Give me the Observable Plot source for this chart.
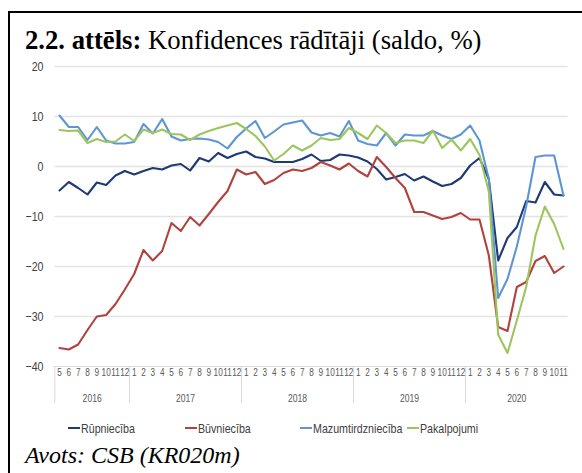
<!DOCTYPE html>
<html>
<head>
<meta charset="utf-8">
<script src="https://cdn.jsdelivr.net/npm/d3@7"></script>
<script src="https://cdn.jsdelivr.net/npm/@observablehq/plot@0.6"></script>
<style>
  html, body { margin: 0; padding: 0; background: #fff; }
  body { width: 582px; height: 473px; position: relative; overflow: hidden; }
  #frame { position: absolute; left: 8px; top: 11px; width: 600px; height: 500px; border-left: 2px solid #000; border-top: 2px solid #000; }
  #title { position: absolute; left: 25px; top: 27px; font-family: "Liberation Serif", "Times New Roman", serif; font-size: 26.7px; line-height: 26.7px; color: #000; white-space: nowrap; }
  #chart { position: absolute; left: 0; top: 0; }
  #legend { position: absolute; left: 0; top: 422px; width: 582px; height: 14px; font-family: "Liberation Sans", Arial, sans-serif; font-size: 13px; line-height: 13px; color: #404040; }
  .item { position: absolute; top: 0; white-space: nowrap; }
  .sw { position: absolute; left: 0; top: 5px; width: 12px; height: 2px; }
  .lbl { position: absolute; left: 13px; top: 0; display: inline-block; transform: scaleX(0.82); transform-origin: 0 0; }
  #caption { position: absolute; left: 25px; top: 443px; font-family: "Liberation Serif", "Times New Roman", serif; font-style: italic; font-size: 24px; line-height: 24px; color: #000; white-space: nowrap; }
</style>
</head>
<body>
<div id="frame"></div>
<div id="title"><b>2.2. attēls:</b> Konfidences rādītāji (saldo, %)</div>
<div id="chart"></div>
<div id="legend"></div>
<div id="caption">Avots: CSB (KR020m)</div>
<script>
// Month labels, 2016-05 .. 2020-11
const months = ["5","6","7","8","9","10","11","12",
  "1","2","3","4","5","6","7","8","9","10","11","12",
  "1","2","3","4","5","6","7","8","9","10","11","12",
  "1","2","3","4","5","6","7","8","9","10","11","12",
  "1","2","3","4","5","6","7","8","9","10","11"];
const years = ["2016","2017","2018","2019","2020"];
const yearStart = [0, 8, 20, 32, 44];
const yearEnd = [7, 19, 31, 43, 54];
const yTicks = [20, 10, 0, -10, -20, -30, -40];

const seriesNames = ["Rūpniecība", "Būvniecība", "Mazumtirdzniecība", "Pakalpojumi"];
const seriesColors = ["#1f3a73", "#b0433e", "#5e96d4", "#9cc55e"];

const rupnieciba = [-4.8,-3.1,-4.3,-5.6,-3.2,-3.7,-1.8,-0.9,
  -1.6,-0.9,-0.3,-0.6,0.2,0.5,-0.8,1.7,1.0,2.7,1.7,2.5,
  3.0,1.9,1.6,0.9,0.9,0.9,1.5,2.4,1.1,1.3,2.4,2.2,
  1.8,1.0,-0.5,-2.6,-2.1,-1.5,-2.8,-2.0,-3.0,-3.9,-3.5,-2.3,
  0.2,1.7,-2.5,-18.8,-14.3,-12.1,-6.9,-7.2,-3.1,-5.6,-5.8];
const buvnieciba = [-36.3,-36.6,-35.6,-32.7,-30.0,-29.7,-27.5,-24.6,
  -21.5,-16.7,-18.8,-16.9,-11.3,-12.9,-10.1,-11.8,-9.5,-7.1,-4.9,-0.6,
  -1.6,-1.1,-3.5,-2.7,-1.3,-0.6,-0.9,-0.3,0.9,0.2,-0.6,0.6,
  -0.9,-2.0,1.9,-0.1,-2.3,-4.3,-9.1,-9.1,-9.8,-10.5,-10.1,-9.3,
  -10.6,-10.6,-17.8,-32.1,-32.9,-24.1,-23.1,-18.9,-17.9,-21.3,-20.0];
const mazumtirdznieciba = [10.2,7.9,7.9,5.3,7.9,5.2,4.6,4.6,
  4.9,8.5,6.6,9.5,6.0,5.2,5.5,5.6,5.4,4.9,3.6,5.9,
  7.6,9.1,5.7,7.0,8.4,8.8,9.2,6.8,6.2,6.7,6.0,9.1,
  5.2,4.5,4.2,6.7,4.2,6.4,6.2,6.2,7.1,6.2,5.5,6.4,
  8.2,5.2,-2.5,-26.3,-22.5,-16.0,-8.0,1.9,2.2,2.2,-5.8];
const pakalpojumi = [7.3,7.1,7.2,4.7,5.5,4.9,5.0,6.4,
  5.1,7.4,6.7,7.4,6.5,6.4,5.3,6.4,7.1,7.7,8.2,8.7,
  7.5,6.1,4.0,1.2,2.5,4.2,3.2,4.2,5.7,5.3,5.5,7.7,
  6.7,5.5,8.2,6.7,4.7,5.2,5.2,4.7,7.2,3.7,5.4,3.2,
  5.5,2.3,-5.0,-33.6,-37.3,-30.8,-24.1,-13.8,-8.0,-11.5,-16.5];

const allSeries = [rupnieciba, buvnieciba, mazumtirdznieciba, pakalpojumi];
const rows = [];
allSeries.forEach((vals, s) => vals.forEach((v, i) => rows.push({i, value: v, series: seriesNames[s]})));
const idx = months.map((_, i) => i);
const separators = [-0.5, 7.5, 19.5, 31.5, 43.5];
const yearRows = years.map((y, k) => ({year: y, mid: (yearStart[k] + yearEnd[k]) / 2}));

const chart = Plot.plot({
  width: 582,
  height: 410,
  marginLeft: 59,
  marginRight: 19,
  marginTop: 66,
  marginBottom: 44,
  x: {domain: [0, 54], axis: null},
  y: {domain: [-40, 20], axis: null},
  color: {domain: seriesNames, range: seriesColors},
  style: {fontFamily: "'Liberation Sans', Arial, sans-serif", fontSize: "13px", color: "#404040", background: "transparent", overflow: "visible"},
  marks: [
    Plot.ruleY(yTicks.filter(d => d > -40), {x1: -0.5, x2: 54.5, y: d => d, stroke: "#e4e4e4", strokeWidth: 1.3}),
    Plot.ruleY([-40], {x1: -0.5, x2: 54.5, stroke: "#d9d9d9", strokeWidth: 1}),
    Plot.axisY(yTicks, {tickSize: 0, tickPadding: 16, fontSize: 13, fill: "#404040", label: null}),
    Plot.ruleX(separators, {x: d => d, y1: -40, y2: -47.4, stroke: "#d9d9d9", strokeWidth: 1}),
    Plot.text(idx, {x: d => d, y: -40, text: d => months[d], dy: 9.5, lineAnchor: "bottom", fontSize: 10, fill: "#595959"}),
    Plot.text(yearRows, {x: "mid", y: -40, text: "year", dy: 35, lineAnchor: "bottom", fontSize: 10.5, fill: "#595959"}),
    Plot.line(rows, {x: "i", y: "value", z: "series", stroke: "series", strokeWidth: 2.1, curve: "linear"})
  ]
});
document.getElementById("chart").appendChild(chart);

// condense the chart's sans-serif texts horizontally (narrow font look)
d3.select(chart).selectAll("text").each(function() {
  const t = this.getAttribute("transform");
  if (t) {
    this.setAttribute("transform", t + " scale(0.82,1)");
  } else {
    const x = +this.getAttribute("x") || 0;
    this.setAttribute("x", 0);
    const y = this.getAttribute("y");
    this.setAttribute("transform", `translate(${x},0) scale(0.82,1)`);
    if (y != null) this.setAttribute("y", y);
  }
});

// legend
const legendX = [68, 185, 300, 407];
const legend = document.getElementById("legend");
seriesNames.forEach((name, k) => {
  const it = document.createElement("div");
  it.className = "item";
  it.style.left = legendX[k] + "px";
  const sw = document.createElement("span");
  sw.className = "sw";
  sw.style.background = seriesColors[k];
  it.appendChild(sw);
  const lb = document.createElement("span");
  lb.className = "lbl";
  lb.textContent = name;
  it.appendChild(lb);
  legend.appendChild(it);
});
</script>
</body>
</html>
